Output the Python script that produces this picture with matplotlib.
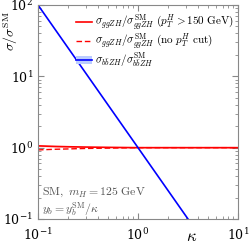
import numpy as np
import matplotlib
matplotlib.use("Agg")
import matplotlib.pyplot as plt
from matplotlib.patches import Patch

plt.rcParams['mathtext.fontset'] = 'cm'
plt.rcParams['font.family'] = 'serif'
plt.rcParams['font.serif'] = ['DejaVu Serif']

kappa = [0.1, 0.15, 0.2, 0.3, 0.5, 1.0, 2.0, 5.0, 10.0]
gg_cut = [1.06, 1.04, 1.03, 1.02, 1.01, 1.0, 1.0, 1.0, 1.0]
gg_cut_lo = [1.03, 1.02, 1.015, 1.01, 1.005, 0.995, 0.995, 0.995, 0.995]
gg_cut_hi = [1.09, 1.06, 1.045, 1.03, 1.015, 1.005, 1.005, 1.005, 1.005]
gg_nocut = [0.93, 0.95, 0.96, 0.975, 0.985, 1.0, 1.0, 1.0, 1.0]
kappa_bb = [0.1, 0.3, 1.0, 3.0, 10.0]
bb = [100.0, 11.11, 1.0, 0.1111, 0.01]

fig = plt.figure(figsize=(2.49, 2.45), dpi=100)
ax = fig.add_axes([38/249, 1-219/245, 200/249, 214/245])

ax.fill_between(kappa, gg_cut_lo, gg_cut_hi, color='#ff9999', alpha=0.6, lw=0)
l1, = ax.plot(kappa, gg_cut, color='red', lw=1.2)
l2, = ax.plot(kappa, gg_nocut, color='red', lw=1.0, ls=(0, (4, 2)))
l3, = ax.plot(kappa_bb, bb, color='blue', lw=1.2)
band = Patch(facecolor='#bbccff', edgecolor='none')

ax.set_xscale('log')
ax.set_yscale('log')
ax.set_xlim(0.1, 10)
ax.set_ylim(0.1, 100)

for s in ax.spines.values():
    s.set_color('#888888')
    s.set_linewidth(0.8)
ax.tick_params(which='both', direction='in', top=True, right=True, colors='#888888',
               labelcolor='black', labelsize=9)
ax.tick_params(which='major', length=4)
ax.tick_params(which='minor', length=2)
ax.tick_params(axis='x', pad=6)

fig.text(1/249, 1-31/245, r'$\sigma/\sigma^{\rm SM}$', rotation=90, ha='left',
         va='center', fontsize=10)
ax.set_xlabel(r'$\kappa$', fontsize=12)
ax.xaxis.set_label_coords(0.77, -0.04)

ax.legend([l1, l2, (band, l3)],
          [r'$\sigma_{ggZH}/\sigma_{ggZH}^{\rm SM}\ (p_T^H>150\ {\rm GeV})$',
           r'$\sigma_{ggZH}/\sigma_{ggZH}^{\rm SM}\ ({\rm no}\ p_T^H\ {\rm cut})$',
           r'$\sigma_{b\bar bZH}/\sigma_{b\bar bZH}^{\rm SM}$'],
          loc='upper right', fontsize=8, frameon=False, handlelength=1.4,
          handletextpad=0.25, labelspacing=-0.1, borderaxespad=0.0,
          bbox_to_anchor=(1.0, 0.985))

ax.text(0.02, 0.115, r'${\rm SM},\ m_H=125\ {\rm GeV}$', transform=ax.transAxes,
        fontsize=8.5, color='#555555')
ax.text(0.02, 0.03, r'$y_b=y_b^{\rm SM}/\kappa$', transform=ax.transAxes,
        fontsize=8.5, color='#555555')

fig.savefig('out.png', dpi=100)
